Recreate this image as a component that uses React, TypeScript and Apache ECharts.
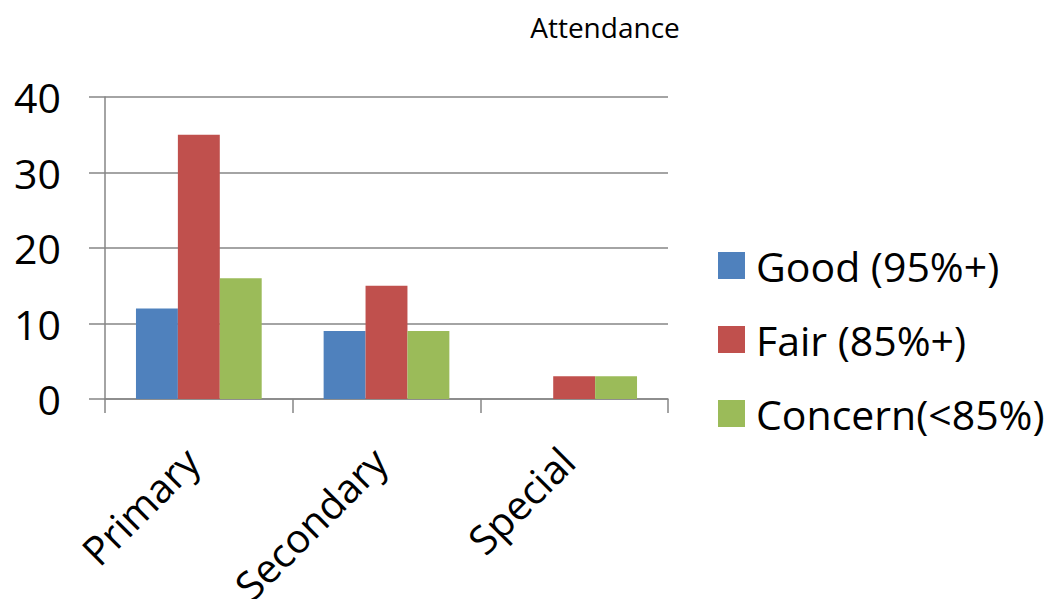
import React, { useEffect, useRef } from "react";
import * as echarts from "echarts";

// School categories and attendance counts per band
const categories = ["Primary", "Secondary", "Special"];
const seriesNames = ["Good (95%+)", "Fair (85%+)", "Concern(<85%)"];
const goodValues = [12, 9, 0];
const fairValues = [35, 15, 3];
const concernValues = [16, 9, 3];
const seriesColors = ["#4F81BD", "#C0504D", "#9BBB59"];
const yTicks = { min: 0, max: 40, interval: 10 };

const FONT = "'Open Sans', 'Liberation Sans', sans-serif";
const AXIS_GRAY = "#868686";

export default function App() {
  const ref = useRef<HTMLDivElement>(null);

  useEffect(() => {
    if (!ref.current) return;
    const chart = echarts.init(ref.current, null, { renderer: "svg" });
    const values = [goodValues, fairValues, concernValues];

    chart.setOption({
      animation: false,
      backgroundColor: "#ffffff",
      textStyle: { fontFamily: FONT },
      graphic: [
        {
          type: "text",
          x: 605,
          y: 27,
          style: {
            text: "Attendance",
            fontFamily: FONT,
            fontSize: 28,
            fill: "#000",
            textAlign: "center",
            textVerticalAlign: "middle",
          },
        },
      ],
      legend: {
        orient: "vertical",
        left: 713,
        top: 240,
        itemWidth: 27,
        itemHeight: 27,
        itemGap: 33,
        icon: "rect",
        data: seriesNames,
        textStyle: {
          fontFamily: FONT,
          fontSize: 41,
          lineHeight: 41,
          color: "#000",
          padding: [0, 0, 0, 6],
        },
      },
      grid: {
        left: 105,
        right: 388,
        top: 97,
        bottom: 200,
        containLabel: false,
        outerBoundsMode: "none",
      },
      xAxis: {
        type: "category",
        data: categories,
        axisLine: { show: true, lineStyle: { color: AXIS_GRAY, width: 1.5 } },
        axisTick: { show: true, length: 14, alignWithLabel: false, lineStyle: { color: AXIS_GRAY, width: 1.5 } },
        axisLabel: {
          rotate: 45,
          fontFamily: FONT,
          fontSize: 40,
          color: "#000",
          margin: 48,
          padding: [0, 10, 0, 0],
          interval: 0,
        },
      },
      yAxis: {
        type: "value",
        min: yTicks.min,
        max: yTicks.max,
        interval: yTicks.interval,
        axisLine: { show: true, lineStyle: { color: AXIS_GRAY, width: 1.5 } },
        axisTick: { show: true, length: 16, lineStyle: { color: AXIS_GRAY, width: 1.5 } },
        splitLine: { show: true, lineStyle: { color: AXIS_GRAY, width: 1.5 } },
        axisLabel: {
          fontFamily: FONT,
          fontSize: 41,
          color: "#000",
          margin: 44,
        },
      },
      series: seriesNames.map((name, i) => ({
        name,
        type: "bar",
        data: values[i],
        barGap: "0%",
        barCategoryGap: "33%",
        itemStyle: { color: seriesColors[i] },
      })),
    });

    return () => chart.dispose();
  }, []);

  return (
    <div
      ref={ref}
      style={{ position: "fixed", left: 0, top: 0, width: 1056, height: 599 }}
    />
  );
}
